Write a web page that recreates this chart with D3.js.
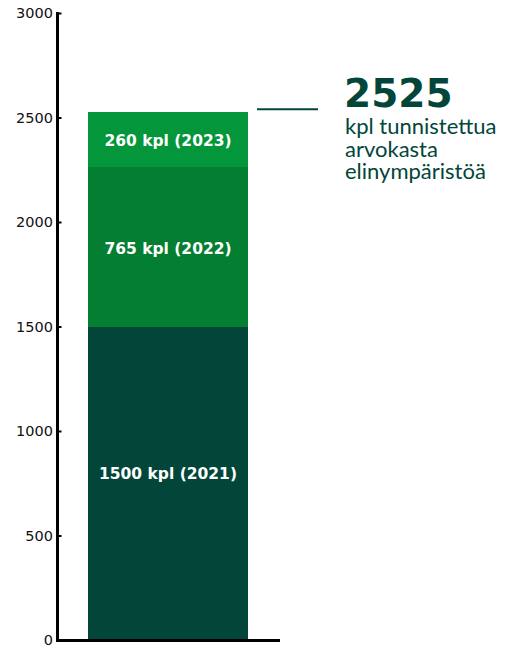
<!DOCTYPE html>
<html>
<head>
<meta charset="utf-8">
<script src="https://cdn.jsdelivr.net/npm/d3@7"></script>
<style>
  html, body { margin: 0; padding: 0; background: #fff; }
  svg { display: block; }
</style>
</head>
<body>
<svg id="chart" width="513" height="646"></svg>
<script>
// ---- Data ----
const years = ["2021", "2022", "2023"];
const counts = [1500, 765, 260];
const segmentColors = ["#02463a", "#047e30", "#04963a"];
const yTicks = [0, 500, 1000, 1500, 2000, 2500, 3000];
const totalLabel = ["kpl tunnistettua", "arvokasta", "elinympäristöä"];

// ---- Layout ----
const svg = d3.select("#chart");
const y = d3.scaleLinear().domain([0, 3000]).range([640, 13]);
const barX0 = 88, barX1 = 248;
const labelDy = [-9, 2, 2];

// stacked segments
let cum = 0;
const segs = counts.map((c, i) => {
  const s = { y0: cum, y1: cum + c, value: c, year: years[i], color: segmentColors[i], i };
  cum += c;
  return s;
});
const total = d3.sum(counts);

svg.append("g").attr("shape-rendering", "crispEdges")
  .selectAll("rect").data(segs).join("rect")
  .attr("x", barX0)
  .attr("width", barX1 - barX0)
  .attr("y", d => Math.round(y(d.y1)))
  .attr("height", d => Math.round(y(d.y0)) - Math.round(y(d.y1)))
  .attr("fill", d => d.color);

svg.append("g").selectAll("text").data(segs).join("text")
  .attr("x", (barX0 + barX1) / 2)
  .attr("y", d => y((d.y0 + d.y1) / 2) + labelDy[d.i])
  .attr("text-anchor", "middle")
  .attr("dominant-baseline", "central")
  .attr("fill", "#fff")
  .attr("font-family", "DejaVu Sans, sans-serif")
  .attr("font-weight", "bold")
  .attr("font-size", "15.5px")
  .text(d => `${d.value} kpl (${d.year})`);

// y axis
const yAxis = d3.axisRight(y).tickValues(yTicks).tickSize(4).tickFormat(d3.format("d"));
const gy = svg.append("g").attr("transform", "translate(57.5,0)").call(yAxis);
gy.select(".domain").remove();
gy.selectAll(".tick line").attr("stroke", "#000").attr("stroke-width", 2);
gy.selectAll(".tick text")
  .attr("x", -4.5)
  .attr("text-anchor", "end")
  .attr("font-family", "DejaVu Sans, sans-serif")
  .attr("font-size", "14.5px")
  .attr("fill", "#111");
svg.append("line")
  .attr("x1", 57.5).attr("x2", 57.5)
  .attr("y1", y(3000) - 1).attr("y2", y(0) + 2)
  .attr("stroke", "#000").attr("stroke-width", 3);
// baseline
svg.append("line")
  .attr("x1", 56).attr("x2", 280)
  .attr("y1", y(0) + 0.5).attr("y2", y(0) + 0.5)
  .attr("stroke", "#000").attr("stroke-width", 3);

// total annotation
svg.append("line")
  .attr("x1", 257).attr("x2", 318)
  .attr("y1", y(total) - 3).attr("y2", y(total) - 3)
  .attr("stroke", "#02463a").attr("stroke-width", 2);

svg.append("text")
  .attr("x", 344).attr("y", 107)
  .attr("font-family", "DejaVu Sans, sans-serif")
  .attr("font-weight", "bold")
  .attr("font-size", "39px")
  .attr("fill", "#02463a")
  .text(total);

svg.append("g").selectAll("text").data(totalLabel).join("text")
  .attr("x", 345)
  .attr("y", (d, i) => 134 + i * 22.7)
  .attr("font-family", "Lato, sans-serif")
  .attr("font-size", "22px")
  .attr("fill", "#02463a")
  .text(d => d);
</script>
</body>
</html>
